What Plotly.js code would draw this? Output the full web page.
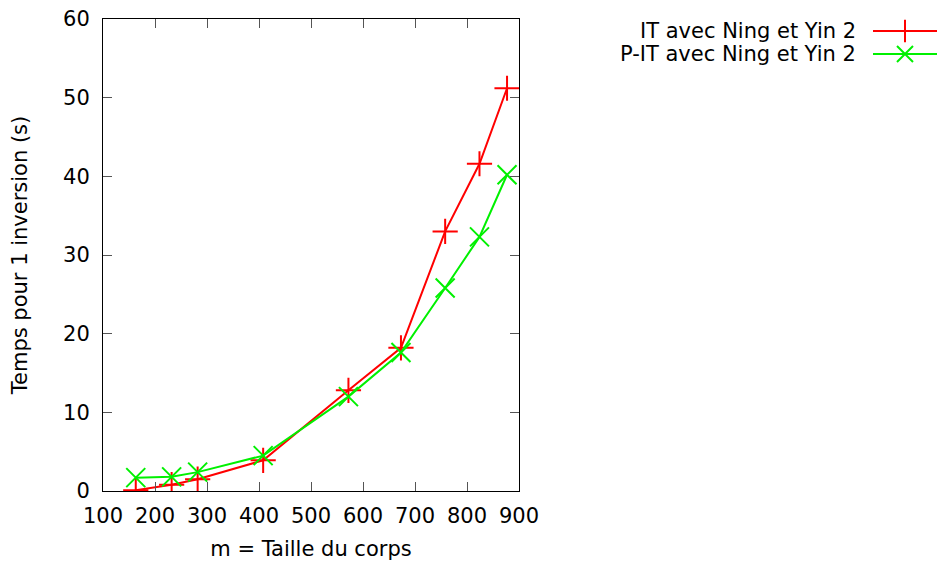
<!DOCTYPE html>
<html><head><meta charset="utf-8">
<script src="https://cdn.plot.ly/plotly-3.0.1.min.js"></script>
<style>html,body{margin:0;padding:0;background:#fff}</style>
</head><body><div id="chart" style="width:938px;height:563px"></div>
<script>
const m = [163, 232, 282, 408, 572, 673, 758, 824, 877];
const itTimes = [0.1, 0.8, 1.5, 3.9, 12.8, 18.2, 33.0, 41.6, 51.2];
const pitTimes = [1.7, 1.8, 2.4, 4.5, 12.0, 17.6, 25.8, 32.3, 40.2];
const seriesNames = ['IT avec Ning et Yin 2', 'P-IT avec Ning et Yin 2'];
const xTicks = [100, 200, 300, 400, 500, 600, 700, 800, 900];
const yTicks = [0, 10, 20, 30, 40, 50, 60];

const FONT = 'DejaVu Sans, sans-serif';
const FS = 21;
const RED = '#ff0000', GREEN = '#00f000';
// Legend labels are drawn as annotations (text left of the sample, as in the reference),
// so the legend entries themselves carry no text.
const traces = [
  {x: m, y: itTimes, name: '', meta: seriesNames[0], type: 'scatter', mode: 'lines+markers',
   line: {color: RED, width: 2},
   marker: {symbol: 'cross-thin', size: 18, line: {color: RED, width: 2}},
   legend: 'legend'},
  {x: m, y: pitTimes, name: '', meta: seriesNames[1], type: 'scatter', mode: 'lines+markers',
   line: {color: GREEN, width: 2},
   marker: {symbol: 'x-thin', size: 19, line: {color: GREEN, width: 2}},
   legend: 'legend2'}
];
const axisCommon = {
  showgrid: false, zeroline: false, showline: true, mirror: 'allticks',
  linecolor: '#000', linewidth: 1, ticks: 'inside', ticklen: 9, tickcolor: '#555',
  tickfont: {family: FONT, size: FS, color: '#000'}
};
const legCommon = {font: {family: FONT, size: 1, color: 'rgba(0,0,0,0)'}, bgcolor: 'rgba(0,0,0,0)',
  itemwidth: 64, xanchor: 'left', yanchor: 'middle', borderwidth: 0};
const PL = 103, PR = 519, PT = 19, PB = 491;
const px = v => (v - PL) / (PR - PL);
const py = v => (PB - v) / (PB - PT);
const layout = {
  width: 938, height: 563,
  margin: {l: PL, r: 938 - PR, t: PT, b: 563 - PB, autoexpand: false},
  paper_bgcolor: '#fff', plot_bgcolor: '#fff',
  font: {family: FONT, color: '#000'},
  xaxis: Object.assign({}, axisCommon, {range: [100, 900], tickvals: xTicks, ticklabelstandoff: 6,
    title: {text: 'm = Taille du corps', font: {family: FONT, size: FS}, standoff: 14}}),
  yaxis: Object.assign({}, axisCommon, {range: [0, 60], tickvals: yTicks, ticklabelstandoff: 8,
    title: {text: 'Temps pour 1 inversion (s)', font: {family: FONT, size: FS}, standoff: 29}}),
  showlegend: true,
  legend: Object.assign({}, legCommon, {x: px(868), y: py(31)}),
  legend2: Object.assign({}, legCommon, {x: px(868), y: py(54)}),
  annotations: [
    {xref: 'paper', yref: 'paper', x: px(858), y: py(31), xanchor: 'right', yanchor: 'middle',
     text: seriesNames[0], showarrow: false, font: {family: FONT, size: FS, color: '#000'}},
    {xref: 'paper', yref: 'paper', x: px(858), y: py(54), xanchor: 'right', yanchor: 'middle',
     text: seriesNames[1], showarrow: false, font: {family: FONT, size: FS, color: '#000'}}
  ]
};
Plotly.newPlot('chart', traces, layout, {displayModeBar: false, staticPlot: true});
</script></body></html>
